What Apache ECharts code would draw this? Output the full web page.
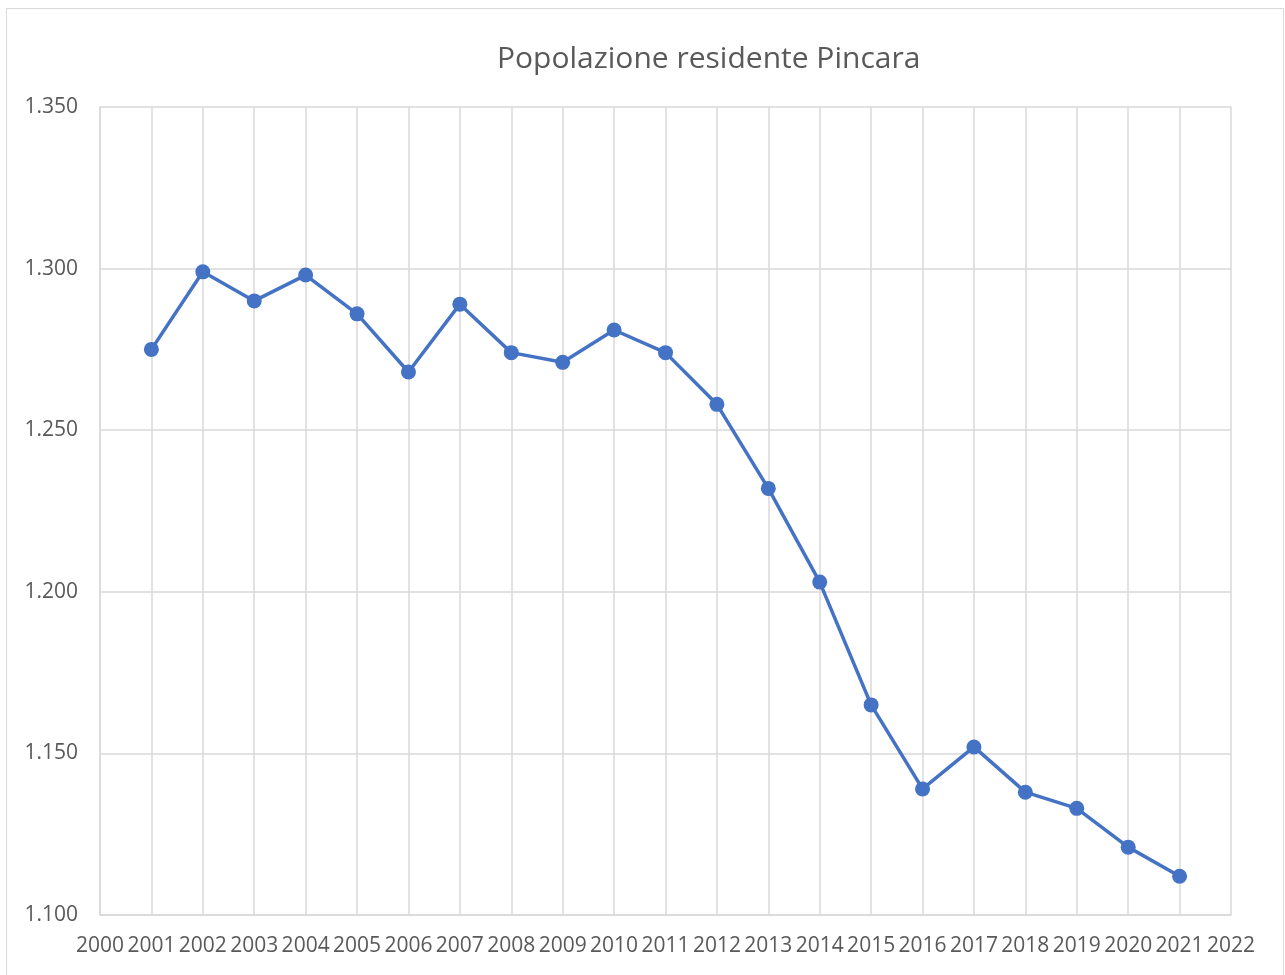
<!DOCTYPE html>
<html>
<head>
<meta charset="utf-8">
<title>Popolazione residente Pincara</title>
<script src="https://cdn.jsdelivr.net/npm/echarts@6/dist/echarts.min.js"></script>
<style>
  html, body { margin: 0; padding: 0; background: #fff; }
  #chart { width: 1285px; height: 975px; }
</style>
</head>
<body>
<div id="chart"></div>
<script>
// anni e popolazione residente
var years = [2001, 2002, 2003, 2004, 2005, 2006, 2007, 2008, 2009, 2010, 2011,
  2012, 2013, 2014, 2015, 2016, 2017, 2018, 2019, 2020, 2021]
var population = [1275, 1299, 1290, 1298, 1286, 1268, 1289, 1274, 1271, 1281, 1274,
  1258, 1232, 1203, 1165, 1139, 1152, 1138, 1133, 1121, 1112]

var textColor = '#595959'
var gridColor = '#d9d9d9'
var font = '"Open Sans", sans-serif'

var chart = echarts.init(document.getElementById('chart'))
chart.setOption({
  animation: false,
  graphic: [{
    type: 'rect',
    shape: { x: 6.5, y: 8.5, width: 1277, height: 980 },
    style: { fill: 'none', stroke: gridColor, lineWidth: 1 },
    silent: true
  }],
  title: {
    text: 'Popolazione residente Pincara',
    left: 492,
    top: 39,
    textStyle: { color: textColor, fontFamily: font, fontSize: 30, fontWeight: 'normal' }
  },
  grid: { left: 100, right: 54, top: 107, bottom: 60 },
  xAxis: {
    type: 'value',
    min: 2000,
    max: 2022,
    interval: 1,
    axisLine: { show: true, lineStyle: { color: gridColor, width: 1.5 } },
    axisTick: { show: false },
    splitLine: { show: true, lineStyle: { color: gridColor, width: 1.5 } },
    axisLabel: {
      color: textColor, fontFamily: font, fontSize: 21, margin: 21,
      formatter: function (v) { return String(v) }
    }
  },
  yAxis: {
    type: 'value',
    min: 1100,
    max: 1350,
    interval: 50,
    axisLine: { show: true, lineStyle: { color: gridColor, width: 1.5 } },
    axisTick: { show: false },
    splitLine: { show: true, lineStyle: { color: gridColor, width: 1.5 } },
    axisLabel: {
      color: textColor, fontFamily: font, fontSize: 21, margin: 22,
      formatter: function (v) { return (v / 1000).toFixed(3) }
    }
  },
  series: [{
    name: 'Popolazione',
    type: 'line',
    data: years.map(function (y, i) { return [y, population[i]] }),
    symbol: 'circle',
    symbolSize: 15,
    itemStyle: { color: '#4472C4' },
    lineStyle: { color: '#4472C4', width: 3.5 }
  }]
})
</script>
</body>
</html>
